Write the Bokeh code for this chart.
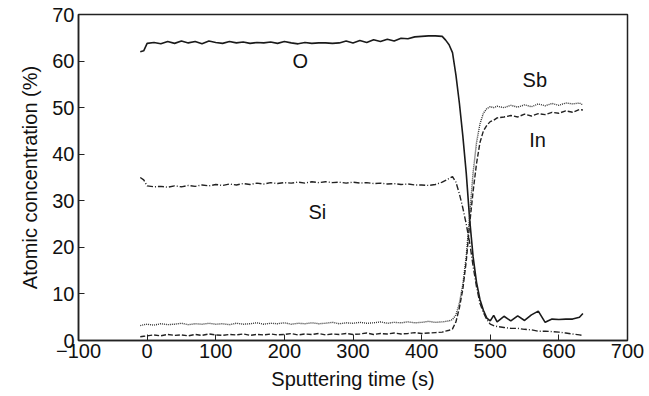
from bokeh.plotting import figure
from bokeh.models import FixedTicker, Label
from bokeh.embed import file_html
from bokeh.resources import INLINE

# Sputtering time (s)
t = [-10, -5, 0, 10, 20, 30, 40, 50, 60, 70, 80, 90, 100, 110, 120, 130, 140, 150,
     160, 170, 180, 190, 200, 210, 220, 230, 240, 250, 260, 270, 280, 290, 300, 310,
     320, 330, 340, 350, 360, 370, 380, 390, 400, 410, 420, 430, 435, 440, 445, 450,
     455, 460, 465, 470, 475, 480, 485, 490, 495, 500, 505, 510, 520, 530, 540, 550,
     560, 570, 580, 590, 600, 610, 620, 630, 635]

# Atomic concentration (%)
o_conc = [62.0, 62.2, 63.8, 64.0, 63.7, 64.2, 63.8, 64.3, 63.9, 64.2, 63.7, 64.3, 64.0,
          63.8, 64.2, 63.9, 64.1, 63.8, 64.0, 63.9, 64.1, 63.8, 64.2, 63.9, 63.7, 64.0,
          63.8, 63.9, 63.9, 63.8, 63.9, 64.3, 63.9, 64.4, 64.0, 64.6, 64.2, 64.7, 64.3,
          64.9, 64.8, 65.2, 65.3, 65.4, 65.4, 65.3, 64.5, 63.5, 61.8, 57.0, 51.0, 44.0,
          36.0, 26.0, 18.0, 12.5, 8.8, 6.5, 4.8, 4.2, 5.4, 4.0, 5.2, 4.2, 5.3, 4.3, 5.5,
          6.3, 3.9, 4.6, 4.5, 4.6, 4.6, 5.0, 5.8]

si_conc = [35.0, 34.5, 33.2, 33.0, 33.1, 32.9, 33.2, 33.0, 33.3, 33.1, 33.4, 33.2, 33.5,
           33.3, 33.6, 33.4, 33.7, 33.5, 33.8, 33.6, 33.9, 33.7, 33.9, 33.8, 34.0, 33.8,
           34.1, 33.9, 34.1, 33.9, 34.0, 33.8, 34.0, 33.8, 33.9, 33.7, 33.8, 33.6, 33.7,
           33.5, 33.6, 33.4, 33.4, 33.3, 33.5, 34.0, 34.4, 34.8, 35.2, 34.0, 31.5, 28.5,
           25.0, 21.0, 16.0, 11.5, 8.0, 6.0, 4.5, 3.5, 3.2, 3.0, 2.8, 2.6, 2.6, 2.4, 2.3,
           2.0, 2.0, 1.9, 1.8, 1.6, 1.4, 1.2, 1.1]

sb_conc = [3.2, 3.4, 3.5, 3.3, 3.6, 3.4, 3.5, 3.7, 3.4, 3.6, 3.5, 3.7, 3.5, 3.6, 3.4, 3.7,
           3.5, 3.6, 3.8, 3.5, 3.7, 3.6, 3.8, 3.5, 3.7, 3.6, 3.8, 3.6, 3.7, 3.9, 3.6, 3.8,
           3.7, 3.9, 3.7, 3.8, 4.0, 3.7, 3.9, 3.8, 4.0, 3.8, 3.9, 4.1, 3.9, 4.0, 4.1, 4.2,
           4.5, 5.5, 8.0, 12.0, 18.0, 27.0, 36.0, 42.5, 46.5, 48.8, 49.8, 50.2, 50.0, 50.3,
           50.0, 50.5, 50.1, 50.6, 50.2, 50.8, 50.4, 50.9, 50.5, 51.0, 50.8, 51.0, 50.6]

in_conc = [0.8, 0.9, 1.0, 1.2, 1.0, 1.3, 1.1, 1.2, 1.0, 1.3, 1.1, 1.4, 1.2, 1.1, 1.3, 1.2,
           1.4, 1.1, 1.3, 1.2, 1.4, 1.2, 1.3, 1.5, 1.2, 1.4, 1.3, 1.5, 1.2, 1.4, 1.3, 1.5,
           1.3, 1.4, 1.6, 1.3, 1.5, 1.4, 1.6, 1.4, 1.5, 1.7, 1.5, 1.6, 1.7, 1.8, 2.0, 2.2,
           2.5, 4.0, 7.0, 11.0, 17.0, 25.0, 32.0, 38.0, 42.5, 45.0, 46.2, 47.0, 47.3, 47.8,
           48.0, 48.3, 48.0, 48.6, 48.2, 48.7, 48.5, 49.0, 48.8, 49.3, 49.0, 49.6, 49.5]

x_ticks = [-100, 0, 100, 200, 300, 400, 500, 600, 700]
y_ticks = [0, 10, 20, 30, 40, 50, 60, 70]

labels = ["O", "Si", "Sb", "In"]
label_t = [223, 248, 565, 569]
label_c = [60, 27.5, 56, 43]

FONT = "Liberation Sans"

p = figure(width=649, height=396, output_backend="svg", toolbar_location=None,
           x_range=(-100, 700), y_range=(0, 70),
           min_border_left=78, min_border_right=22, min_border_top=14,
           min_border_bottom=56)
p.background_fill_color = "white"
p.border_fill_color = "white"
p.outline_line_color = "#222222"
p.outline_line_width = 1.5
p.xgrid.visible = False
p.ygrid.visible = False

p.line(t, o_conc, line_color="#1a1a1a", line_width=1.6)
p.line(t, si_conc, line_color="#222222", line_width=1.4, line_dash="6 2 1 2")
p.line(t, sb_conc, line_color="#333333", line_width=1.4, line_dash="1 1")
p.line(t, in_conc, line_color="#222222", line_width=1.4, line_dash="5 2")

for lab, lx, ly in zip(labels, label_t, label_c):
    p.add_layout(Label(x=lx, y=ly, text=lab, text_font=FONT, text_font_size="20px",
                       text_align="center", text_baseline="middle", text_color="#111111"))

for ax, ticks in ((p.xaxis[0], x_ticks), (p.yaxis[0], y_ticks)):
    ax.ticker = FixedTicker(ticks=ticks)
    ax.major_tick_in = 6
    ax.major_tick_out = 0
    ax.minor_tick_line_color = None
    ax.axis_line_color = "#222222"
    ax.axis_line_width = 1.5
    ax.major_tick_line_color = "#222222"
    ax.major_label_text_font = FONT
    ax.major_label_text_font_size = "20px"
    ax.major_label_text_color = "#111111"
    ax.axis_label_text_font = FONT
    ax.axis_label_text_font_size = "20px"
    ax.axis_label_text_font_style = "normal"
    ax.axis_label_text_color = "#111111"

p.xaxis.axis_label = "Sputtering time (s)"
p.yaxis.axis_label = "Atomic concentration (%)"
p.xaxis.major_label_standoff = 3
p.yaxis.major_label_standoff = 4
p.xaxis.axis_label_standoff = 7
p.yaxis.axis_label_standoff = 8

open("out.html", "w").write(file_html(p, INLINE))
